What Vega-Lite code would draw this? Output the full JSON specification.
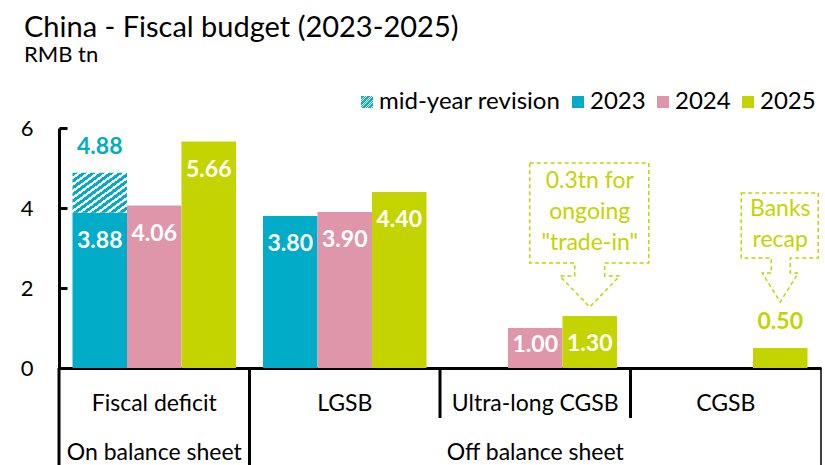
{
  "$schema": "https://vega.github.io/schema/vega-lite/v6.json",
  "width": 762,
  "height": 240,
  "autosize": {"type": "none"},
  "padding": {"left": 59, "top": 128, "right": 4, "bottom": 97},
  "background": "white",
  "config": {"font": "Lato", "view": {"stroke": null}},
  "title": {
    "text": "China - Fiscal budget (2023-2025)",
    "subtitle": "RMB tn",
    "anchor": "start",
    "frame": "group",
    "dx": -35,
    "font": "Lato",
    "fontSize": 29,
    "fontWeight": "normal",
    "color": "#000",
    "subtitleFont": "Lato",
    "subtitleFontSize": 22,
    "subtitleColor": "#000",
    "subtitlePadding": 2,
    "offset": 24
  },
  "datasets": {
    "bars": [
      {"cat": "Fiscal deficit", "year": "2023", "series": "2023", "base": 0, "value": 3.88},
      {"cat": "Fiscal deficit", "year": "2023", "series": "mid-year revision", "base": 3.88, "value": 4.88},
      {"cat": "Fiscal deficit", "year": "2024", "series": "2024", "base": 0, "value": 4.06},
      {"cat": "Fiscal deficit", "year": "2025", "series": "2025", "base": 0, "value": 5.66},
      {"cat": "LGSB", "year": "2023", "series": "2023", "base": 0, "value": 3.80},
      {"cat": "LGSB", "year": "2024", "series": "2024", "base": 0, "value": 3.90},
      {"cat": "LGSB", "year": "2025", "series": "2025", "base": 0, "value": 4.40},
      {"cat": "Ultra-long CGSB", "year": "2024", "series": "2024", "base": 0, "value": 1.00},
      {"cat": "Ultra-long CGSB", "year": "2025", "series": "2025", "base": 0, "value": 1.30},
      {"cat": "CGSB", "year": "2025", "series": "2025", "base": 0, "value": 0.50}
    ],
    "notes": [
      {"cat": "Ultra-long CGSB", "year": "2025", "value": 1.30, "note": ["0.3tn for", "ongoing", "\"trade-in\""]},
      {"cat": "CGSB", "year": "2025", "value": 0.50, "note": ["Banks", "recap"]}
    ],
    "groups": [
      {"cat": "Fiscal deficit", "group": "On balance sheet"},
      {"cat": "LGSB", "group": "Off balance sheet"},
      {"cat": "Ultra-long CGSB", "group": "Off balance sheet"},
      {"cat": "CGSB", "group": "Off balance sheet"}
    ]
  },
  "layer": [
    {
      "data": {"name": "bars"},
      "mark": {"type": "bar", "strokeWidth": 0},
      "encoding": {
        "x": {
          "field": "cat", "type": "nominal",
          "scale": {"domain": ["Fiscal deficit", "LGSB", "Ultra-long CGSB", "CGSB"], "paddingInner": 0, "paddingOuter": 0},
          "axis": {
            "title": null, "domain": true, "domainColor": "#000", "domainWidth": 3, "ticks": false,
            "labelAngle": 0, "labelPadding": 24, "labelBaseline": "top", "labelFont": "Lato", "labelFontSize": 23,
            "labelColor": "#000", "labelLineHeight": 49, "labelOverlap": false, "labelBound": false, "labelFlush": false, "labelLimit": 300,
            "labelExpr": "datum.value == 'Fiscal deficit' ? ['Fiscal deficit', 'On balance sheet'] : datum.value == 'Ultra-long CGSB' ? ['Ultra-long CGSB', 'Off balance sheet'] : datum.value"
          }
        },
        "xOffset": {"field": "year", "type": "nominal", "scale": {"domain": ["2023", "2024", "2025"], "paddingInner": 0, "paddingOuter": 0.248}},
        "y": {
          "field": "value", "type": "quantitative",
          "scale": {"domain": [0, 6], "nice": false},
          "axis": {
            "title": null, "values": [0, 2, 4, 6], "grid": false, "domain": true, "domainColor": "#000", "domainWidth": 3,
            "ticks": true, "tickColor": "#000", "tickWidth": 3, "tickSize": -8, "labelPadding": 34,
            "labelFont": "Lato", "labelFontSize": 22, "labelColor": "#000", "format": "d", "labelFlush": false
          }
        },
        "y2": {"field": "base"},
        "color": {
          "field": "series", "type": "nominal",
          "scale": {
            "domain": ["mid-year revision", "2023", "2024", "2025"],
            "range": [
              {"expr": "{gradient:'linear',x1:0,y1:0,x2:1,y2:1,stops:[{offset:0,color:'#00ACC8'},{offset:0.046,color:'#00ACC8'},{offset:0.046,color:'#fff'},{offset:0.083,color:'#fff'},{offset:0.083,color:'#00ACC8'},{offset:0.129,color:'#00ACC8'},{offset:0.129,color:'#fff'},{offset:0.167,color:'#fff'},{offset:0.167,color:'#00ACC8'},{offset:0.213,color:'#00ACC8'},{offset:0.213,color:'#fff'},{offset:0.25,color:'#fff'},{offset:0.25,color:'#00ACC8'},{offset:0.296,color:'#00ACC8'},{offset:0.296,color:'#fff'},{offset:0.333,color:'#fff'},{offset:0.333,color:'#00ACC8'},{offset:0.379,color:'#00ACC8'},{offset:0.379,color:'#fff'},{offset:0.417,color:'#fff'},{offset:0.417,color:'#00ACC8'},{offset:0.463,color:'#00ACC8'},{offset:0.463,color:'#fff'},{offset:0.5,color:'#fff'},{offset:0.5,color:'#00ACC8'},{offset:0.546,color:'#00ACC8'},{offset:0.546,color:'#fff'},{offset:0.583,color:'#fff'},{offset:0.583,color:'#00ACC8'},{offset:0.629,color:'#00ACC8'},{offset:0.629,color:'#fff'},{offset:0.667,color:'#fff'},{offset:0.667,color:'#00ACC8'},{offset:0.713,color:'#00ACC8'},{offset:0.713,color:'#fff'},{offset:0.75,color:'#fff'},{offset:0.75,color:'#00ACC8'},{offset:0.796,color:'#00ACC8'},{offset:0.796,color:'#fff'},{offset:0.833,color:'#fff'},{offset:0.833,color:'#00ACC8'},{offset:0.879,color:'#00ACC8'},{offset:0.879,color:'#fff'},{offset:0.917,color:'#fff'},{offset:0.917,color:'#00ACC8'},{offset:0.963,color:'#00ACC8'},{offset:0.963,color:'#fff'},{offset:1,color:'#fff'}]}"},
              "#00ACC8", "#E096AA", "#C4D400"
            ]
          },
          "legend": {
            "orient": "none", "legendX": 296, "legendY": -38, "direction": "horizontal", "title": null,
            "symbolType": "square", "symbolSize": 144, "symbolStrokeWidth": 0,
            "labelFont": "Lato", "labelFontSize": 24, "labelColor": "#000", "labelOffset": 0, "columnPadding": 5, "padding": 0, "labelLimit": 300,
            "encode": {
              "symbols": {
                "update": {
                  "fill": {"signal": "datum.value === 'mid-year revision' ? {gradient:'linear',x1:0,y1:0,x2:1,y2:1,stops:[{offset:0,color:'#00ACC8'},{offset:0.18,color:'#00ACC8'},{offset:0.18,color:'#fff'},{offset:0.333,color:'#fff'},{offset:0.333,color:'#00ACC8'},{offset:0.51,color:'#00ACC8'},{offset:0.51,color:'#fff'},{offset:0.667,color:'#fff'},{offset:0.667,color:'#00ACC8'},{offset:0.85,color:'#00ACC8'},{offset:0.85,color:'#fff'},{offset:1,color:'#fff'}]} : scale('color', datum.value)"}
                }
              }
            }
          }
        }
      }
    },
    {
      "data": {"name": "bars"},
      "transform": [{"filter": "datum.series !== 'mid-year revision' && datum.cat !== 'CGSB' && datum.value >= 1.2"}],
      "mark": {"type": "text", "font": "Lato", "fontWeight": "bold", "fontSize": 23, "fill": "#fff", "baseline": "middle", "align": "center", "dy": 28},
      "encoding": {
        "x": {"field": "cat", "type": "nominal", "scale": {"domain": ["Fiscal deficit", "LGSB", "Ultra-long CGSB", "CGSB"]}},
        "xOffset": {"field": "year", "type": "nominal", "scale": {"domain": ["2023", "2024", "2025"]}},
        "y": {"field": "value", "type": "quantitative"},
        "text": {"field": "value", "type": "quantitative", "format": ".2f"}
      }
    },
    {
      "data": {"name": "bars"},
      "transform": [{"filter": "datum.series !== 'mid-year revision' && datum.cat !== 'CGSB' && datum.value < 1.2"}],
      "mark": {"type": "text", "font": "Lato", "fontWeight": "bold", "fontSize": 23, "fill": "#fff", "baseline": "middle", "align": "center", "dy": 17},
      "encoding": {
        "x": {"field": "cat", "type": "nominal", "scale": {"domain": ["Fiscal deficit", "LGSB", "Ultra-long CGSB", "CGSB"]}},
        "xOffset": {"field": "year", "type": "nominal", "scale": {"domain": ["2023", "2024", "2025"]}},
        "y": {"field": "value", "type": "quantitative"},
        "text": {"field": "value", "type": "quantitative", "format": ".2f"}
      }
    },
    {
      "data": {"name": "bars"},
      "transform": [{"filter": "datum.series === 'mid-year revision'"}],
      "mark": {"type": "text", "font": "Lato", "fontWeight": "bold", "fontSize": 23, "fill": "#00ACC8", "baseline": "middle", "align": "center", "dy": -26},
      "encoding": {
        "x": {"field": "cat", "type": "nominal", "scale": {"domain": ["Fiscal deficit", "LGSB", "Ultra-long CGSB", "CGSB"]}},
        "xOffset": {"field": "year", "type": "nominal", "scale": {"domain": ["2023", "2024", "2025"]}},
        "y": {"field": "value", "type": "quantitative"},
        "text": {"field": "value", "type": "quantitative", "format": ".2f"}
      }
    },
    {
      "data": {"name": "bars"},
      "transform": [{"filter": "datum.cat === 'CGSB'"}],
      "mark": {"type": "text", "font": "Lato", "fontWeight": "bold", "fontSize": 23, "fill": "#C4D400", "baseline": "middle", "align": "center", "dy": -26},
      "encoding": {
        "x": {"field": "cat", "type": "nominal", "scale": {"domain": ["Fiscal deficit", "LGSB", "Ultra-long CGSB", "CGSB"]}},
        "xOffset": {"field": "year", "type": "nominal", "scale": {"domain": ["2023", "2024", "2025"]}},
        "y": {"field": "value", "type": "quantitative"},
        "text": {"field": "value", "type": "quantitative", "format": ".2f"}
      }
    },
    {
      "data": {"name": "notes"},
      "transform": [{"filter": "datum.cat === 'Ultra-long CGSB'"}],
      "mark": {"type": "point", "shape": "M-60,-153 L59,-153 L59,-53 L15,-53 L15,-40 L30,-40 L0,-9 L-30,-40 L-15,-40 L-15,-53 L-60,-53 Z", "size": 4, "filled": false, "stroke": "#C4D400", "strokeWidth": 1.5, "strokeDash": [4, 3], "opacity": 1},
      "encoding": {
        "x": {"field": "cat", "type": "nominal", "scale": {"domain": ["Fiscal deficit", "LGSB", "Ultra-long CGSB", "CGSB"]}},
        "xOffset": {"field": "year", "type": "nominal", "scale": {"domain": ["2023", "2024", "2025"]}},
        "y": {"field": "value", "type": "quantitative"}
      }
    },
    {
      "data": {"name": "notes"},
      "transform": [{"filter": "datum.cat === 'CGSB'"}],
      "mark": {"type": "point", "shape": "M-39,-155 L38,-155 L38,-90 L10,-90 L10,-75 L18,-75 L0,-46 L-18,-75 L-9,-75 L-9,-90 L-39,-90 Z", "size": 4, "filled": false, "stroke": "#C4D400", "strokeWidth": 1.5, "strokeDash": [4, 3], "opacity": 1},
      "encoding": {
        "x": {"field": "cat", "type": "nominal", "scale": {"domain": ["Fiscal deficit", "LGSB", "Ultra-long CGSB", "CGSB"]}},
        "xOffset": {"field": "year", "type": "nominal", "scale": {"domain": ["2023", "2024", "2025"]}},
        "y": {"field": "value", "type": "quantitative"}
      }
    },
    {
      "data": {"name": "notes"},
      "transform": [{"filter": "datum.cat === 'Ultra-long CGSB'"}],
      "mark": {"type": "text", "font": "Lato", "fontSize": 23, "fill": "#C4D400", "baseline": "top", "align": "center", "dy": -146, "lineHeight": 31},
      "encoding": {
        "x": {"field": "cat", "type": "nominal", "scale": {"domain": ["Fiscal deficit", "LGSB", "Ultra-long CGSB", "CGSB"]}},
        "xOffset": {"field": "year", "type": "nominal", "scale": {"domain": ["2023", "2024", "2025"]}},
        "y": {"field": "value", "type": "quantitative"},
        "text": {"field": "note"}
      }
    },
    {
      "data": {"name": "notes"},
      "transform": [{"filter": "datum.cat === 'CGSB'"}],
      "mark": {"type": "text", "font": "Lato", "fontSize": 23, "fill": "#C4D400", "baseline": "top", "align": "center", "dy": -150, "lineHeight": 31},
      "encoding": {
        "x": {"field": "cat", "type": "nominal", "scale": {"domain": ["Fiscal deficit", "LGSB", "Ultra-long CGSB", "CGSB"]}},
        "xOffset": {"field": "year", "type": "nominal", "scale": {"domain": ["2023", "2024", "2025"]}},
        "y": {"field": "value", "type": "quantitative"},
        "text": {"field": "note"}
      }
    },
    {
      "data": {"name": "groups"},
      "transform": [{"filter": "datum.cat === 'Fiscal deficit' || datum.cat === 'LGSB'"}],
      "mark": {"type": "rule", "stroke": "#000", "strokeWidth": 3},
      "encoding": {
        "x": {"field": "cat", "type": "nominal", "bandPosition": 0, "scale": {"domain": ["Fiscal deficit", "LGSB", "Ultra-long CGSB", "CGSB"]}},
        "y": {"datum": 0, "type": "quantitative"},
        "y2": {"datum": -2.5}
      }
    },
    {
      "data": {"name": "groups"},
      "transform": [{"filter": "datum.cat === 'Ultra-long CGSB' || datum.cat === 'CGSB'"}],
      "mark": {"type": "rule", "stroke": "#000", "strokeWidth": 3},
      "encoding": {
        "x": {"field": "cat", "type": "nominal", "bandPosition": 0, "scale": {"domain": ["Fiscal deficit", "LGSB", "Ultra-long CGSB", "CGSB"]}},
        "y": {"datum": 0, "type": "quantitative"},
        "y2": {"datum": -1.25}
      }
    },
    {
      "data": {"name": "groups"},
      "transform": [{"filter": "datum.cat === 'CGSB'"}],
      "mark": {"type": "rule", "stroke": "#000", "strokeWidth": 1.5},
      "encoding": {
        "x": {"field": "cat", "type": "nominal", "bandPosition": 1, "scale": {"domain": ["Fiscal deficit", "LGSB", "Ultra-long CGSB", "CGSB"]}},
        "y": {"datum": 0, "type": "quantitative"},
        "y2": {"datum": -2.5}
      }
    }
  ]
}
